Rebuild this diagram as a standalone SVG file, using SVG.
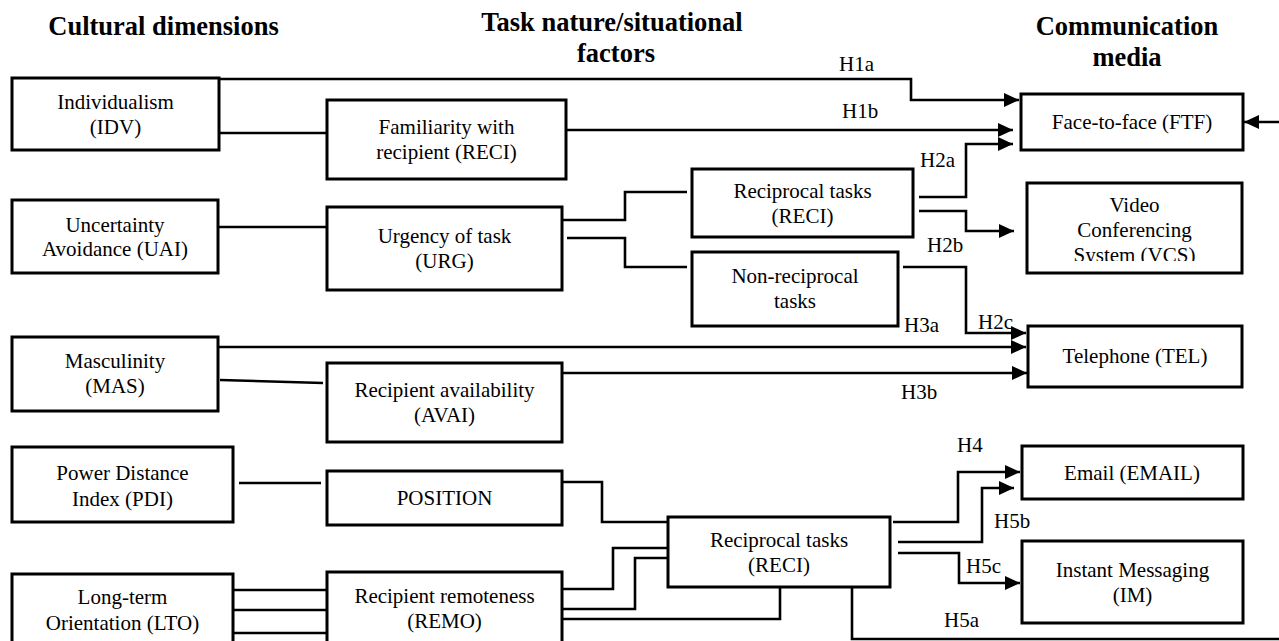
<svg xmlns="http://www.w3.org/2000/svg" width="1279" height="641" viewBox="0 0 1279 641">
<style>
.box{fill:#fff;stroke:#000;stroke-width:3}
.t{font-family:"Liberation Serif","Times New Roman",serif;font-size:21px;fill:#000;text-anchor:middle}
.h{font-family:"Liberation Serif","Times New Roman",serif;font-size:26.5px;font-weight:bold;fill:#000;text-anchor:middle}
.lab{font-family:"Liberation Serif","Times New Roman",serif;font-size:21px;fill:#000}
.c{fill:none;stroke:#000;stroke-width:2.6}
</style>
<defs>
<marker id="arr" markerUnits="userSpaceOnUse" markerWidth="16" markerHeight="14" refX="15" refY="7" orient="auto">
<path d="M0,0 L15,7 L0,14 z" fill="#000"/>
</marker>
<clipPath id="vcsclip"><rect x="1027" y="183" width="215" height="78"/></clipPath>
</defs>
<rect width="1279" height="641" fill="#fff"/>

<g id="headers">
<text class="h" x="163.5" y="35">Cultural dimensions</text>
<text class="h" x="612" y="31">Task nature/situational</text>
<text class="h" x="616" y="62">factors</text>
<text class="h" x="1127" y="35">Communication</text>
<text class="h" x="1127" y="66">media</text>
</g>

<g id="connectors">
<path class="c" d="M219,79 H911 V100 H1019" marker-end="url(#arr)"/>
<path class="c" d="M219,133 H327"/>
<path class="c" d="M566,130 H1013" marker-end="url(#arr)"/>
<path class="c" d="M218,227 H327"/>
<path class="c" d="M562,220 H625 V192 H687"/>
<path class="c" d="M567,238 H625 V267 H687"/>
<path class="c" d="M919,197 H966 V144 H1013" marker-end="url(#arr)"/>
<path class="c" d="M919,211 H966 V231 H1014" marker-end="url(#arr)"/>
<path class="c" d="M903,267 H966 V333 H1026" marker-end="url(#arr)"/>
<path class="c" d="M218,347 H1026" marker-end="url(#arr)"/>
<path class="c" d="M220,380 L323,383"/>
<path class="c" d="M562,373 H1027" marker-end="url(#arr)"/>
<path class="c" d="M239,483 H321"/>
<path class="c" d="M562,482 H602 V522 H668"/>
<path class="c" d="M233,590 H327"/>
<path class="c" d="M233,610 H327"/>
<path class="c" d="M233,633 H327"/>
<path class="c" d="M562,589 H613 V548 H668"/>
<path class="c" d="M562,609 H635 V558 H668"/>
<path class="c" d="M562,619 H780 V587"/>
<path class="c" d="M893,522 H958 V472 H1020" marker-end="url(#arr)"/>
<path class="c" d="M898,542 H982 V488 H1014" marker-end="url(#arr)"/>
<path class="c" d="M898,553 H959 V583 H1020" marker-end="url(#arr)"/>
<path class="c" d="M852,587 V639 H1279"/>
<path class="c" d="M1279,122 H1244" marker-end="url(#arr)"/>
</g>

<g id="labels">
<text class="lab" x="839" y="71">H1a</text>
<text class="lab" x="842" y="118">H1b</text>
<text class="lab" x="920" y="167">H2a</text>
<text class="lab" x="927" y="252">H2b</text>
<text class="lab" x="978" y="329">H2c</text>
<text class="lab" x="904" y="332">H3a</text>
<text class="lab" x="901" y="399">H3b</text>
<text class="lab" x="957" y="452">H4</text>
<text class="lab" x="994" y="528">H5b</text>
<text class="lab" x="966" y="573">H5c</text>
<text class="lab" x="944" y="627">H5a</text>
</g>

<g id="idv"><rect class="box" x="12" y="78" width="207" height="72"/>
<text class="t" x="115.5" y="109">Individualism</text><text class="t" x="115.5" y="134">(IDV)</text></g>
<g id="uai"><rect class="box" x="12" y="200" width="206" height="73"/>
<text class="t" x="115" y="232">Uncertainty</text><text class="t" x="115" y="256">Avoidance (UAI)</text></g>
<g id="mas"><rect class="box" x="12" y="337" width="206" height="74"/>
<text class="t" x="115" y="368">Masculinity</text><text class="t" x="115" y="393">(MAS)</text></g>
<g id="pdi"><rect class="box" x="12" y="447" width="221" height="75"/>
<text class="t" x="122.5" y="480">Power Distance</text><text class="t" x="122.5" y="506">Index (PDI)</text></g>
<g id="lto"><rect class="box" x="12" y="574" width="221" height="76"/>
<text class="t" x="122.5" y="604">Long-term</text><text class="t" x="122.5" y="630">Orientation (LTO)</text></g>

<g id="fam"><rect class="box" x="327" y="100" width="239" height="79"/>
<text class="t" x="446.5" y="134">Familiarity with</text><text class="t" x="446.5" y="159">recipient (RECI)</text></g>
<g id="urg"><rect class="box" x="327" y="207" width="235" height="83"/>
<text class="t" x="444.5" y="243">Urgency of task</text><text class="t" x="444.5" y="268">(URG)</text></g>
<g id="avai"><rect class="box" x="327" y="363" width="235" height="79"/>
<text class="t" x="444.5" y="397">Recipient availability</text><text class="t" x="444.5" y="422">(AVAI)</text></g>
<g id="position"><rect class="box" x="327" y="471" width="235" height="54"/>
<text class="t" x="444.5" y="505">POSITION</text></g>
<g id="remo"><rect class="box" x="327" y="572" width="235" height="78"/>
<text class="t" x="444.5" y="603">Recipient remoteness</text><text class="t" x="444.5" y="628">(REMO)</text></g>

<g id="reci1"><rect class="box" x="692" y="169" width="221" height="68"/>
<text class="t" x="802.5" y="198">Reciprocal tasks</text><text class="t" x="802.5" y="223">(RECI)</text></g>
<g id="nonreci"><rect class="box" x="692" y="252" width="206" height="74"/>
<text class="t" x="795" y="283">Non-reciprocal</text><text class="t" x="795" y="308">tasks</text></g>
<g id="reci2"><rect class="box" x="668" y="517" width="222" height="70"/>
<text class="t" x="779" y="547">Reciprocal tasks</text><text class="t" x="779" y="572">(RECI)</text></g>

<g id="ftf"><rect class="box" x="1021" y="94" width="222" height="56"/>
<text class="t" x="1132" y="129">Face-to-face (FTF)</text></g>
<g id="vcs"><rect class="box" x="1027" y="183" width="215" height="90"/>
<g clip-path="url(#vcsclip)"><text class="t" x="1134.5" y="212">Video</text><text class="t" x="1134.5" y="237">Conferencing</text><text class="t" x="1134.5" y="262">System (VCS)</text></g></g>
<g id="tel"><rect class="box" x="1028" y="326" width="214" height="61"/>
<text class="t" x="1135" y="363">Telephone (TEL)</text></g>
<g id="email"><rect class="box" x="1022" y="446" width="221" height="53"/>
<text class="t" x="1132" y="480">Email (EMAIL)</text></g>
<g id="im"><rect class="box" x="1022" y="541" width="221" height="82"/>
<text class="t" x="1132.5" y="577">Instant Messaging</text><text class="t" x="1132.5" y="602">(IM)</text></g>
</svg>
